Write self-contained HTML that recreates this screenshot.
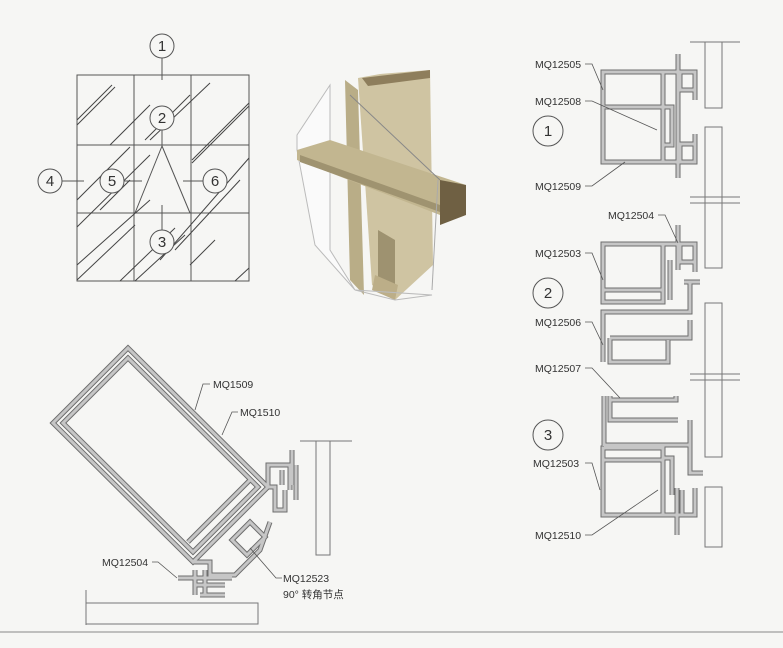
<!DOCTYPE html>
<html><head><meta charset="utf-8"><style>
html,body{margin:0;padding:0;background:#f6f6f4;}
svg{display:block;}
text{font-family:"Liberation Sans","Noto Sans CJK SC",sans-serif;fill:#333;}
</style></head><body>
<svg width="783" height="648" viewBox="0 0 783 648" xmlns="http://www.w3.org/2000/svg">
<rect width="783" height="648" fill="#f6f6f4"/>
<defs>
<g id="s1" fill="none">
 <path d="M603 72 H663 V162 H603 Z M603 107 H663"/>
 <path d="M663 72 H695 V100 M680 72 V90 H695 M663 107 H672 V145 H663 M663 162 H695 V134 M680 162 V144 H695 M678 54 V178"/>
</g>
<g id="s2" fill="none">
 <path d="M603 244 H663 V302 H603 Z M603 290 H663"/>
 <path d="M663 244 H695 V272 M680 244 V262 H695 M663 244 V302 M670 260 V300 M684 282 H700 M690 282 V312 H603 V362 M610 338 V362 H668 V340 M610 338 H690 V320 M690 312 V300"/>
 <path d="M678 225 V270"/>
</g>
<g id="s3" fill="none">
 <path d="M604 396 V446 M610 396 V420 H678 M610 400 H676 V396 M604 445 H690 V473 H703 M690 445 V420"/>
 <path d="M603 448 H663 V515 H603 Z M603 460 H663 M663 458 H672 V495 M663 515 H695 V488 M682 515 V490 M677 488 V535"/>
</g>
<g id="corner" fill="none">
 <path d="M128 348 L268 487 L193 562 L53 423 Z"/>
 <path d="M128 358 L258 487 L193 552 L63 423 Z"/>
 <path d="M250 480 L188 542"/>
 <path d="M268 487 L275 487 V510 H285 V490 M268 487 V465 H290 V490 M282 470 V485 M296 465 V500 M292 485 V450"/>
 <path d="M232 540 L250 522 L265 537 L247 555 Z M193 562 H210 V575 H235 L260 550 L270 522"/>
 <path d="M178 578 H232 M195 570 V595 M205 570 V595 M195 585 H225 M200 595 H225"/>
</g>
</defs>
<!-- grid -->
<g stroke="#555" stroke-width="1" fill="none">
 <rect x="77" y="75" width="172" height="206"/>
 <line x1="134" y1="75" x2="134" y2="281"/><line x1="191" y1="75" x2="191" y2="281"/>
 <line x1="77" y1="145" x2="249" y2="145"/><line x1="77" y1="213" x2="249" y2="213"/>
 <line x1="162" y1="58" x2="162" y2="80"/><line x1="162" y1="130" x2="162" y2="146"/>
 <line x1="162" y1="146" x2="135" y2="213"/><line x1="162" y1="146" x2="190" y2="213"/>
 <line x1="162" y1="205" x2="162" y2="230"/>
 <line x1="62" y1="181" x2="84" y2="181"/><line x1="124" y1="181" x2="142" y2="181"/><line x1="183" y1="181" x2="203" y2="181"/>
</g>
<g stroke="#444" stroke-width="1">
 <line x1="77" y1="120" x2="112" y2="85"/><line x1="77" y1="125" x2="115" y2="87"/>
 <line x1="110" y1="145" x2="150" y2="105"/><line x1="145" y1="140" x2="190" y2="95"/>
 <line x1="150" y1="140" x2="210" y2="83"/>
 <line x1="192" y1="160" x2="249" y2="103"/><line x1="192" y1="163" x2="249" y2="106"/>
 <line x1="77" y1="200" x2="130" y2="147"/><line x1="77" y1="227" x2="150" y2="155"/>
 <line x1="100" y1="210" x2="130" y2="180"/>
 <line x1="160" y1="260" x2="249" y2="158"/><line x1="175" y1="250" x2="240" y2="180"/>
 <line x1="77" y1="265" x2="150" y2="200"/><line x1="77" y1="280" x2="135" y2="225"/>
 <line x1="120" y1="281" x2="175" y2="228"/><line x1="135" y1="281" x2="185" y2="235"/>
 <line x1="190" y1="265" x2="215" y2="240"/><line x1="235" y1="281" x2="249" y2="268"/>
</g>
<g fill="#f6f6f4" stroke="#555" stroke-width="1">
 <circle cx="162" cy="46" r="12"/><circle cx="162" cy="118" r="12"/><circle cx="162" cy="242" r="12"/>
 <circle cx="50" cy="181" r="12"/><circle cx="112" cy="181" r="12"/><circle cx="215" cy="181" r="12"/>
</g>
<g font-size="15" text-anchor="middle">
 <text x="162" y="51">1</text><text x="162" y="123">2</text><text x="162" y="247">3</text>
 <text x="50" y="186">4</text><text x="112" y="186">5</text><text x="215" y="186">6</text>
</g>
<!-- 3D render -->
<g>
 <polygon points="297,135 330,85 330,250 355,290 315,245 297,150" fill="#fafafa" stroke="#bbb" stroke-width="1"/>
 <polygon points="380,74 430,70 433,265 395,300 372,285 358,78" fill="#cfc4a2"/>
 <polygon points="362,78 430,70 430,78 368,86" fill="#8e7e5c"/>
 <polygon points="345,80 358,90 364,295 350,280" fill="#b9ad87"/>
 <polygon points="378,230 395,240 395,295 378,285" fill="#9e9270"/>
 <polygon points="297,150 330,140 466,185 466,200 440,215 297,160" fill="#c2b690"/>
 <polygon points="300,155 440,205 440,212 300,162" fill="#9f9370"/>
 <polygon points="440,180 466,185 466,215 440,225" fill="#6f6043"/>
 <polygon points="372,290 395,300 398,285 375,275" fill="#bcae88"/>
 <line x1="350" y1="95" x2="440" y2="180" stroke="#888" stroke-width="1"/>
 <line x1="438" y1="180" x2="432" y2="290" stroke="#aaa" stroke-width="1"/>
 <polygon points="355,290 432,295 395,300" fill="none" stroke="#bbb"/>
</g>
<!-- right sections -->
<use href="#s1" stroke="#6e6e6e" stroke-width="5"/><use href="#s1" stroke="#c6c6c6" stroke-width="3"/>
<use href="#s2" stroke="#6e6e6e" stroke-width="5"/><use href="#s2" stroke="#c6c6c6" stroke-width="3"/>
<use href="#s3" stroke="#6e6e6e" stroke-width="5"/><use href="#s3" stroke="#c6c6c6" stroke-width="3"/>
<g fill="none" stroke="#777" stroke-width="1">
 <rect x="705" y="42" width="17" height="66"/><rect x="705" y="127" width="17" height="141"/>
 <rect x="705" y="303" width="17" height="154"/><rect x="705" y="487" width="17" height="60"/>
 <line x1="690" y1="42" x2="740" y2="42"/>
 <line x1="690" y1="197" x2="740" y2="197"/><line x1="690" y1="203" x2="740" y2="203"/>
 <line x1="690" y1="374" x2="740" y2="374"/><line x1="690" y1="380" x2="740" y2="380"/>
</g>
<g fill="#f6f6f4" stroke="#555" stroke-width="1">
 <circle cx="548" cy="131" r="15"/><circle cx="548" cy="293" r="15"/><circle cx="548" cy="435" r="15"/>
</g>
<g font-size="15" text-anchor="middle"><text x="548" y="136">1</text><text x="548" y="298">2</text><text x="548" y="440">3</text></g>
<g stroke="#555" stroke-width="0.8" fill="none">
 <polyline points="585,64 592,64 603,90"/><polyline points="585,101 592,101 657,130"/>
 <polyline points="585,186 592,186 625,162"/><polyline points="658,215 665,215 678,243"/>
 <polyline points="585,253 592,253 603,280"/><polyline points="585,322 592,322 603,345"/>
 <polyline points="585,368 592,368 620,398"/><polyline points="585,463 592,463 600,490"/>
 <polyline points="585,535 592,535 658,490"/>
</g>
<g font-size="10.5">
 <text x="535" y="68">MQ12505</text><text x="535" y="105">MQ12508</text><text x="535" y="190">MQ12509</text>
 <text x="608" y="219">MQ12504</text><text x="535" y="257">MQ12503</text><text x="535" y="326">MQ12506</text>
 <text x="535" y="372">MQ12507</text><text x="533" y="467">MQ12503</text><text x="535" y="539">MQ12510</text>
</g>
<!-- corner detail -->
<use href="#corner" stroke="#6e6e6e" stroke-width="5"/><use href="#corner" stroke="#c6c6c6" stroke-width="3"/>
<g fill="none" stroke="#777" stroke-width="1">
 <rect x="316" y="441" width="14" height="114"/><line x1="300" y1="441" x2="352" y2="441"/>
 <rect x="86" y="603" width="172" height="21"/><line x1="86" y1="590" x2="86" y2="625"/>
</g>
<g stroke="#555" stroke-width="0.8" fill="none">
 <polyline points="210,384 203,384 195,410"/><polyline points="238,412 232,412 222,435"/>
 <polyline points="152,562 158,562 177,578"/><polyline points="282,578 276,578 250,548"/>
</g>
<g font-size="10.5">
 <text x="213" y="388">MQ1509</text><text x="240" y="416">MQ1510</text>
 <text x="102" y="566">MQ12504</text><text x="283" y="582">MQ12523</text>
 <text x="283" y="598">90°  转角节点</text>
</g>
<line x1="0" y1="632" x2="783" y2="632" stroke="#888" stroke-width="1"/>
</svg>
</body></html>
